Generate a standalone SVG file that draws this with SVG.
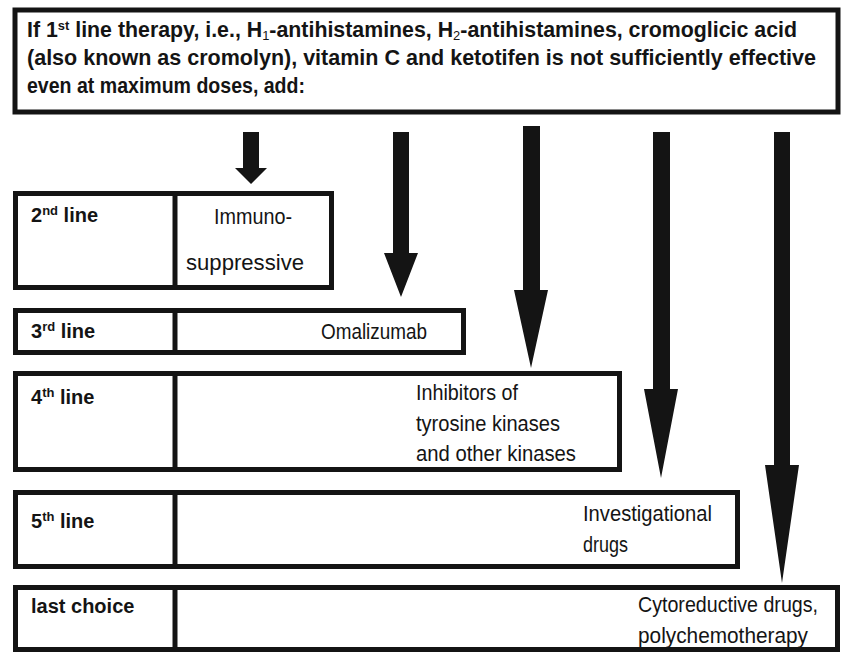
<svg xmlns="http://www.w3.org/2000/svg" width="848" height="653" viewBox="0 0 848 653">
<style>
.box{fill:#fff;stroke:#141414;stroke-width:5}
.div{stroke:#141414;stroke-width:5}
.arr{fill:#141414}
.hd{font-family:"Liberation Sans",Arial,sans-serif;font-weight:bold;font-size:21.5px;fill:#141414}
.lb{font-family:"Liberation Sans",Arial,sans-serif;font-weight:bold;font-size:20px;fill:#141414}
.tx{font-family:"Liberation Sans",Arial,sans-serif;font-size:22px;fill:#141414}
.sup{font-size:13px}
</style>
<rect width="848" height="653" fill="#fff"/>
<g id="header">
<rect class="box" x="15" y="10" width="823" height="102" stroke-width="4"/>
<text class="hd" x="27" y="37" textLength="770" lengthAdjust="spacingAndGlyphs">If 1<tspan class="sup" dy="-7">st</tspan><tspan dy="7"> line therapy, i.e., H</tspan><tspan class="sup" font-weight="normal" dy="3">1</tspan><tspan dy="-3">-antihistamines, H</tspan><tspan class="sup" font-weight="normal" dy="3">2</tspan><tspan dy="-3">-antihistamines, cromoglicic acid</tspan></text>
<text class="hd" x="27" y="65" textLength="789" lengthAdjust="spacingAndGlyphs">(also known as cromolyn), vitamin C and ketotifen is not sufficiently effective</text>
<text class="hd" x="27" y="93" textLength="278" lengthAdjust="spacingAndGlyphs">even at maximum doses, add:</text>
</g>
<g id="connectors">
<polygon class="arr" points="243,132 259,132 259,168 267,168 251,184 235,168 243,168"/>
<polygon class="arr" points="393,132 409,132 409,253 418,253 401,297 384,253 393,253"/>
<polygon class="arr" points="523,126 540,126 540,290 548,290 531,368 514,290 523,290"/>
<polygon class="arr" points="653,132 670,132 670,389 678,389 661,478 644,389 653,389"/>
<polygon class="arr" points="774,132 790,132 790,465 799,465 782,583 765,465 774,465"/>
</g>
<g id="line2">
<rect class="box" x="15.5" y="193.5" width="316" height="94"/>
<line class="div" x1="175" y1="193.5" x2="175" y2="287.5"/>
<text class="lb" x="31" y="222">2<tspan class="sup" dy="-7">nd</tspan><tspan dy="7"> line</tspan></text>
<text class="tx" x="214" y="224" textLength="78" lengthAdjust="spacingAndGlyphs">Immuno-</text>
<text class="tx" x="186" y="270" textLength="118" lengthAdjust="spacingAndGlyphs">suppressive</text>
</g>
<g id="line3">
<rect class="box" x="15.5" y="310.5" width="448" height="42"/>
<line class="div" x1="175" y1="310.5" x2="175" y2="352.5"/>
<text class="lb" x="31" y="338">3<tspan class="sup" dy="-7">rd</tspan><tspan dy="7"> line</tspan></text>
<text class="tx" x="321" y="339" textLength="106" lengthAdjust="spacingAndGlyphs">Omalizumab</text>
</g>
<g id="line4">
<rect class="box" x="15.5" y="373.5" width="604" height="96"/>
<line class="div" x1="175" y1="373.5" x2="175" y2="469.5"/>
<text class="lb" x="31" y="404">4<tspan class="sup" dy="-7">th</tspan><tspan dy="7"> line</tspan></text>
<text class="tx" x="416" y="400" textLength="102" lengthAdjust="spacingAndGlyphs">Inhibitors of</text>
<text class="tx" x="416" y="431" textLength="144" lengthAdjust="spacingAndGlyphs">tyrosine kinases</text>
<text class="tx" x="416" y="461" textLength="160" lengthAdjust="spacingAndGlyphs">and other kinases</text>
</g>
<g id="line5">
<rect class="box" x="15.5" y="492.5" width="722" height="74"/>
<line class="div" x1="175" y1="492.5" x2="175" y2="566.5"/>
<text class="lb" x="31" y="528">5<tspan class="sup" dy="-7">th</tspan><tspan dy="7"> line</tspan></text>
<text class="tx" x="583" y="521" textLength="129" lengthAdjust="spacingAndGlyphs">Investigational</text>
<text class="tx" x="583" y="552" textLength="45" lengthAdjust="spacingAndGlyphs">drugs</text>
</g>
<g id="last">
<rect class="box" x="15.5" y="587.5" width="822" height="62"/>
<line class="div" x1="175" y1="587.5" x2="175" y2="649.5"/>
<text class="lb" x="31" y="613">last choice</text>
<text class="tx" x="638" y="612" textLength="180" lengthAdjust="spacingAndGlyphs">Cytoreductive drugs,</text>
<text class="tx" x="638" y="643" textLength="170" lengthAdjust="spacingAndGlyphs">polychemotherapy</text>
</g>
</svg>
